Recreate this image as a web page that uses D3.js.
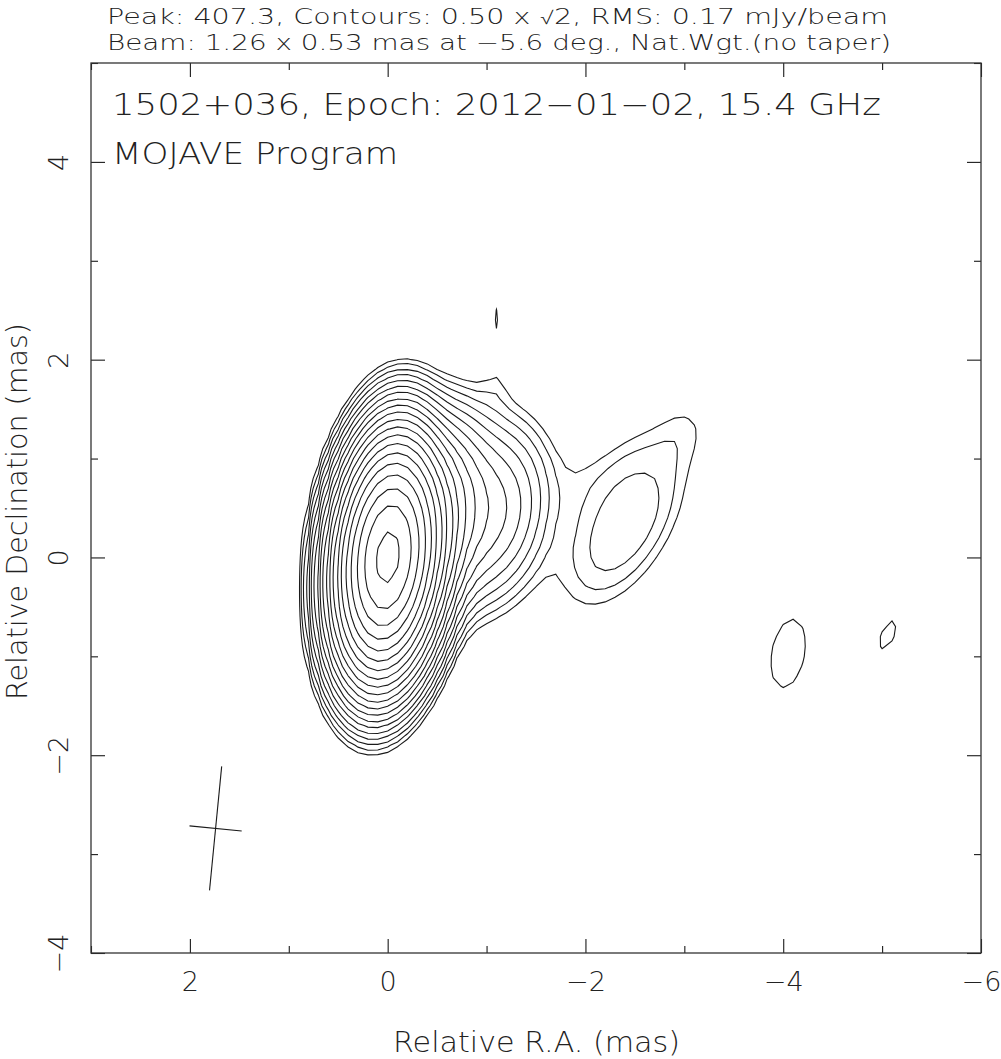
<!DOCTYPE html>
<html>
<head>
<meta charset="utf-8">
<script src="https://cdn.jsdelivr.net/npm/d3@7"></script>
<style>
  body { margin: 0; background: #fff; }
  text { font-family: "DejaVu Sans", Roboto, sans-serif; font-weight: 200; fill: #222; }
</style>
</head>
<body>
<svg width="1001" height="1059"></svg>
<script>
// map header values
var peakFlux = 407.3, rms = 0.17;
var beamMaj = 1.26, beamMin = 0.53, beamPA = -5.6;
var beamPos = [1.74, -2.74];

// contour levels (mJy/beam): 0.50 x sqrt(2)^n
var levels = [0.5, 0.707, 1, 1.414, 2, 2.83, 4, 5.66, 8, 11.3, 16, 22.6, 32, 45.3, 64, 90.5, 128, 181, 256, 362];

// emission components (mas, mJy/beam, fwhm mas, deg)
var compName = ["core", "j1", "jb", "je", "j4", "bridge", "knot", "knotE", "knotN", "spotN", "spotSW", "spotW"];
var compX    = [0.00, -0.50, -0.60, -1.20, -1.10, -1.95, -2.40, -2.35, -3.00, -1.10, -4.05, -5.06];
var compY    = [0.00,  0.30,  0.45,  0.40,  1.75,  0.80,  0.32,  1.00,  1.30,  2.42, -0.97, -0.78];
var compPeak = [404,   7.5,   6.5,   1.2,   0.25,  0.20,  1.40,  0.25,  0.35,  0.53,  0.62,  0.56];
var compMaj  = [1.29,  1.30,  1.30,  1.20,  0.40,  0.70,  1.45,  0.80,  0.70,  0.60,  1.26,  0.80];
var compMin  = [0.555, 0.47,  1.05,  0.60,  0.25,  0.50,  0.72,  0.45,  0.50,  0.15,  0.60,  0.35];
var compPA   = [-5.6, -10,   -25,   -10,    0,     0,   -31,   -40,   -30,    0,   -10,   -25];

// axes
var xTicks = [2, 0, -2, -4, -6], xMinor = [3, 1, -1, -3, -5];
var yTicks = [-4, -2, 0, 2, 4], yMinor = [-3, -1, 1, 3, 5];

var titleLines = ["Peak: 407.3, Contours: 0.50 x \u221A2, RMS: 0.17 mJy/beam",
                  "Beam: 1.26 x 0.53 mas at \u22125.6 deg., Nat.Wgt.(no taper)"];
var mapTitle = "1502+036, Epoch: 2012\u221201\u221202, 15.4 GHz";
var programName = "MOJAVE Program";

var svg = d3.select("svg"),
    margin = {top: 63, right: 20, bottom: 106, left: 91},
    width = +svg.attr("width") - margin.left - margin.right,
    height = +svg.attr("height") - margin.top - margin.bottom;

var x = d3.scaleLinear().domain([3, -6]).range([0, width]),
    y = d3.scaleLinear().domain([-4, 5]).range([height, 0]);

var g = svg.append("g")
    .attr("transform", "translate(" + margin.left + "," + margin.top + ")");

// build the brightness grid from the components
var step = 0.1,
    nx = Math.round((3 - -6) / step) + 1,
    ny = Math.round((5 - -4) / step) + 1;
var values = new Float64Array(nx * ny);
for (var j = 0; j < ny; j++) {
  var dec = 5 - j * step;
  for (var i = 0; i < nx; i++) {
    var ra = 3 - i * step, s = 0;
    for (var c = 0; c < compX.length; c++) {
      var pa = compPA[c] * Math.PI / 180,
          dx = ra - compX[c], dy = dec - compY[c],
          u = dx * Math.sin(pa) + dy * Math.cos(pa),
          v = dx * Math.cos(pa) - dy * Math.sin(pa),
          sM = compMaj[c] / 2.3548, sm = compMin[c] / 2.3548;
      s += compPeak[c] * Math.exp(-0.5 * (u * u / (sM * sM) + v * v / (sm * sm)));
    }
    values[j * nx + i] = s;
  }
}

var contours = d3.contours().size([nx, ny]).thresholds(levels)(values);

svg.append("clipPath").attr("id", "plotclip")
  .append("rect").attr("width", width).attr("height", height);

var line = d3.line()
    .x(function(p) { return x(3 - (p[0] - 0.5) * step); })
    .y(function(p) { return y(5 - (p[1] - 0.5) * step); });

var paths = [];
contours.forEach(function(ct) {
  ct.coordinates.forEach(function(poly) {
    poly.forEach(function(ring) { paths.push(line(ring) + "Z"); });
  });
});

g.append("g")
    .attr("clip-path", "url(#plotclip)")
  .selectAll("path")
  .data(paths)
  .enter().append("path")
    .attr("d", function(d) { return d; })
    .attr("fill", "none")
    .attr("stroke", "#1a1a1a")
    .attr("stroke-width", 1.1);

// beam cross
var bpa = beamPA * Math.PI / 180;
var beamLines = [
  [[beamPos[0] - beamMaj / 2 * Math.sin(bpa), beamPos[1] - beamMaj / 2 * Math.cos(bpa)],
   [beamPos[0] + beamMaj / 2 * Math.sin(bpa), beamPos[1] + beamMaj / 2 * Math.cos(bpa)]],
  [[beamPos[0] - beamMin / 2 * Math.cos(bpa), beamPos[1] + beamMin / 2 * Math.sin(bpa)],
   [beamPos[0] + beamMin / 2 * Math.cos(bpa), beamPos[1] - beamMin / 2 * Math.sin(bpa)]]
];
g.selectAll(".beam")
  .data(beamLines)
  .enter().append("line")
    .attr("class", "beam")
    .attr("x1", function(d) { return x(d[0][0]); })
    .attr("y1", function(d) { return y(d[0][1]); })
    .attr("x2", function(d) { return x(d[1][0]); })
    .attr("y2", function(d) { return y(d[1][1]); })
    .attr("stroke", "#1a1a1a")
    .attr("stroke-width", 1.1);

// axes, ticks point inward on all four sides
var fmt = d3.format("d");
g.append("g")
    .attr("class", "axis axis--x")
    .attr("transform", "translate(0," + height + ")")
    .call(d3.axisBottom(x).tickValues(xTicks).tickSize(-14).tickPadding(19).tickFormat(fmt));
g.append("g")
    .attr("transform", "translate(0," + height + ")")
    .call(d3.axisBottom(x).tickValues(xMinor).tickSize(-7).tickFormat(""));
g.append("g")
    .call(d3.axisTop(x).tickValues(xTicks).tickSize(-14).tickFormat(""));
g.append("g")
    .call(d3.axisTop(x).tickValues(xMinor).tickSize(-7).tickFormat(""));

var yAxis = g.append("g")
    .attr("class", "axis axis--y")
    .call(d3.axisLeft(y).tickValues(yTicks).tickSize(-14).tickFormat(fmt));
g.append("g")
    .call(d3.axisLeft(y).tickValues(yMinor).tickSize(-7).tickFormat(""));
g.append("g")
    .attr("transform", "translate(" + width + ",0)")
    .call(d3.axisRight(y).tickValues(yTicks).tickSize(-14).tickFormat(""));
g.append("g")
    .attr("transform", "translate(" + width + ",0)")
    .call(d3.axisRight(y).tickValues(yMinor).tickSize(-7).tickFormat(""));

g.selectAll(".domain").remove();
g.selectAll(".tick line").attr("stroke", "#1a1a1a").attr("stroke-width", 1.1);
g.selectAll(".tick text").attr("font-size", 27).attr("font-family", null).attr("fill", null);

yAxis.selectAll(".tick text")
    .attr("x", 0).attr("dy", null)
    .attr("text-anchor", "middle")
    .attr("transform", "translate(-23,0) rotate(-90)");

g.append("rect")
    .attr("width", width).attr("height", height)
    .attr("fill", "none").attr("stroke", "#333").attr("stroke-width", 1.3);

// axis titles
svg.append("text")
    .attr("x", 393).attr("y", 1052)
    .attr("font-size", 28)
    .attr("textLength", 287).attr("lengthAdjust", "spacingAndGlyphs")
    .text("Relative R.A. (mas)");
svg.append("text")
    .attr("transform", "translate(27,700) rotate(-90)")
    .attr("font-size", 28)
    .attr("textLength", 377).attr("lengthAdjust", "spacingAndGlyphs")
    .text("Relative Declination (mas)");

// header and labels
svg.selectAll(".hdr")
  .data(titleLines)
  .enter().append("text")
    .attr("class", "hdr")
    .attr("x", 107).attr("y", function(d, i) { return 24 + i * 26; })
    .attr("font-size", 20.5)
    .attr("textLength", function(d, i) { return i ? 784 : 781; })
    .attr("lengthAdjust", "spacingAndGlyphs")
    .text(function(d) { return d; });

svg.append("text")
    .attr("x", 112).attr("y", 115).attr("font-size", 29.5)
    .attr("textLength", 769).attr("lengthAdjust", "spacingAndGlyphs")
    .text(mapTitle);
svg.append("text")
    .attr("x", 112).attr("y", 164).attr("font-size", 29.5)
    .attr("textLength", 286).attr("lengthAdjust", "spacingAndGlyphs")
    .text(programName);
</script>
</body>
</html>
